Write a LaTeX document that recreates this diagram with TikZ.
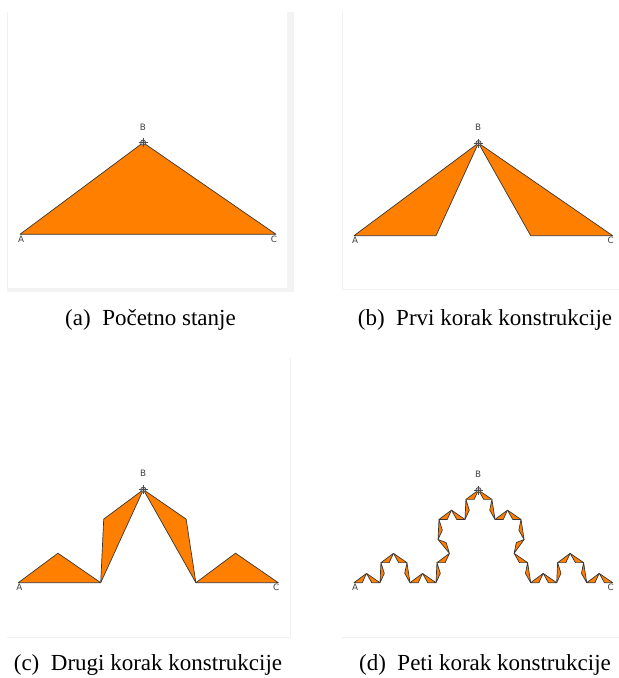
\documentclass[tikz,border=0pt]{standalone}
\usepackage{fontspec}
\setmainfont{Liberation Serif}
\newfontfamily\ggbfont{DejaVu Sans}
\usepackage{tikz}
\usetikzlibrary{positioning}
\definecolor{ggbOrange}{HTML}{FF7F00}
\definecolor{ggbEdge}{HTML}{3C3630}
\definecolor{paleFrame}{HTML}{F1F1F1}
\definecolor{paleShade}{HTML}{F3F3F3}

% base A-C gets apex B; every side is then split again by the two maps
\newcommand\kochpiece[1]{%
  \ifnum#1=0
    \filldraw[piece] (0,0) -- (0.481,0.358) -- (1,0) -- cycle;
  \else
    \begin{scope}[cm={0.481,0.358,0.2392,-0.481,(0,0)}]
      \kochpiece{\numexpr#1-1\relax}
    \end{scope}
    \begin{scope}[cm={0.519,-0.358,-0.1331,-0.519,(0.481,0.358)}]
      \kochpiece{\numexpr#1-1\relax}
    \end{scope}
  \fi}

\begin{document}
\begin{tikzpicture}[
  x=0.5pt,y=0.5pt,
  piece/.style={fill=ggbOrange,draw=ggbEdge,line width=0.35pt,line join=round},
  ptlabel/.style={font=\fontsize{4.4}{5}\selectfont\ggbfont,text=black!75,inner sep=0pt},
  bmark/.style={circle,draw=black!70,fill=gray!45,line width=0.35pt,
                minimum size=2.6pt,inner sep=0pt},
  markline/.style={draw=black!70,line width=0.35pt},
  panelframe/.style={draw=paleFrame,line width=0.5pt},
  sideshade/.style={fill=paleShade},
  subcap/.style={font=\fontsize{11.5}{13}\selectfont,inner sep=0pt}
]
  \useasboundingbox (0,0) rectangle (619,678);

  % screenshot frames
  \fill[sideshade] (287,386) rectangle (294,666);
  \fill[sideshade] (7,386) rectangle (294,390);
  \draw[panelframe] (7,390) -- (7,666);
  \draw[panelframe] (342,666) -- (342,388) -- (619,388);
  \draw[panelframe] (290,320) -- (290,40) -- (7,40);
  \draw[panelframe] (342,40) -- (619,40);

  % (a)
  \begin{scope}[shift={(20,443.7)},scale=256]
    \kochpiece{0}
    \node[bmark] (Ba) at (0.481,0.358) {};
    \draw[markline] (Ba.center) +(-0.018,0) -- +(0.018,0) +(0,-0.018) -- +(0,0.018);
    \node[ptlabel] (La) at (0.004,-0.018) {A};
    \node[ptlabel] (Ma) at (0.480,0.419) {B};
    \node[ptlabel] (Ra) at (0.992,-0.018) {C};
  \end{scope}

  % (b)
  \begin{scope}[shift={(354,442.3)},scale=258.7]
    \kochpiece{1}
    \node[bmark] (Bb) at (0.481,0.358) {};
    \draw[markline] (Bb.center) +(-0.018,0) -- +(0.018,0) +(0,-0.018) -- +(0,0.018);
    \node[ptlabel] (Lb) at (0.004,-0.018) {A};
    \node[ptlabel] (Mb) at (0.480,0.419) {B};
    \node[ptlabel] (Rb) at (0.992,-0.018) {C};
  \end{scope}

  % (c)
  \begin{scope}[shift={(18.3,95.3)},scale=260]
    \kochpiece{2}
    \node[bmark] (Bc) at (0.481,0.358) {};
    \draw[markline] (Bc.center) +(-0.018,0) -- +(0.018,0) +(0,-0.018) -- +(0,0.018);
    \node[ptlabel] (Lc) at (0.004,-0.018) {A};
    \node[ptlabel] (Mc) at (0.480,0.419) {B};
    \node[ptlabel] (Rc) at (0.992,-0.018) {C};
  \end{scope}

  % (d)
  \begin{scope}[shift={(354,95.3)},scale=258.7]
    \kochpiece{5}
    \node[bmark] (Bd) at (0.481,0.358) {};
    \draw[markline] (Bd.center) +(-0.018,0) -- +(0.018,0) +(0,-0.018) -- +(0,0.018);
    \node[ptlabel] (Ld) at (0.004,-0.018) {A};
    \node[ptlabel] (Md) at (0.480,0.419) {B};
    \node[ptlabel] (Rd) at (0.992,-0.018) {C};
  \end{scope}

  \node[subcap] (capa) at (150.5,358) {(a)\enspace Početno stanje};
  \node[subcap] (capb) at (485,358) {(b)\enspace Prvi korak konstrukcije};
  \node[subcap] (capc) at (148,13) {(c)\enspace Drugi korak konstrukcije};
  \node[subcap] (capd) at (485,13) {(d)\enspace Peti korak konstrukcije};
\end{tikzpicture}
\end{document}
